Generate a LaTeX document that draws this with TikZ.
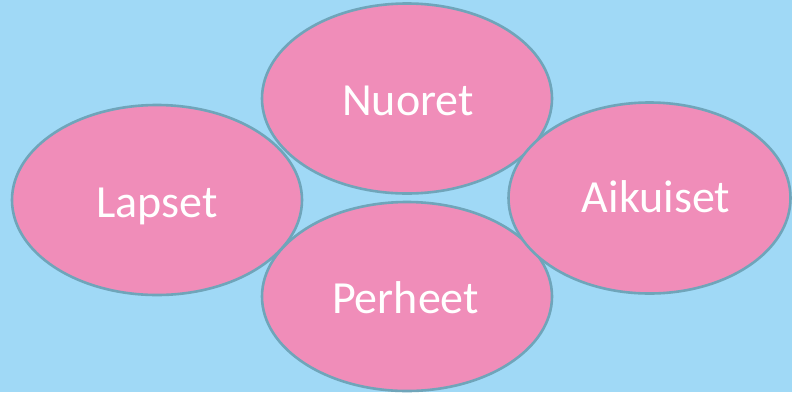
\documentclass[tikz,border=0pt]{standalone}
\usepackage{fontspec}
\setmainfont{Carlito}
\usetikzlibrary{shapes.geometric}
\definecolor{bgblue}{HTML}{A0D9F6}
\definecolor{pinkfill}{HTML}{F08DB9}
\definecolor{edgeblue}{HTML}{6FA5BA}
\tikzset{
  blob/.style={ellipse, draw=edgeblue, fill=pinkfill, line width=2.6pt, inner sep=0pt},
  lbl/.style={text=white, font=\fontsize{46}{52}\selectfont, anchor=base, inner sep=0pt}
}
\begin{document}
\begin{tikzpicture}[x=1pt,y=-1pt]
\fill[bgblue] (0,0) rectangle (792,392);
\useasboundingbox (0,0) rectangle (792,392);
\node[blob, minimum width=290pt, minimum height=190pt] (lapset) at (157,200) {};
\node[blob, minimum width=290pt, minimum height=190pt] (nuoret) at (407,98.5) {};
\node[blob, minimum width=290pt, minimum height=189pt] (perheet) at (407,296.5) {};
\node[blob, minimum width=282pt, minimum height=191pt] (aikuiset) at (649.5,198) {};
\node[lbl] (tn) at (408,115) {Nuoret};
\node[lbl] (tl) at (157,217) {Lapset};
\node[lbl] (ta) at (656,212) {Aikuiset};
\node[lbl] (tp) at (405.5,313) {Perheet};
\end{tikzpicture}
\end{document}
